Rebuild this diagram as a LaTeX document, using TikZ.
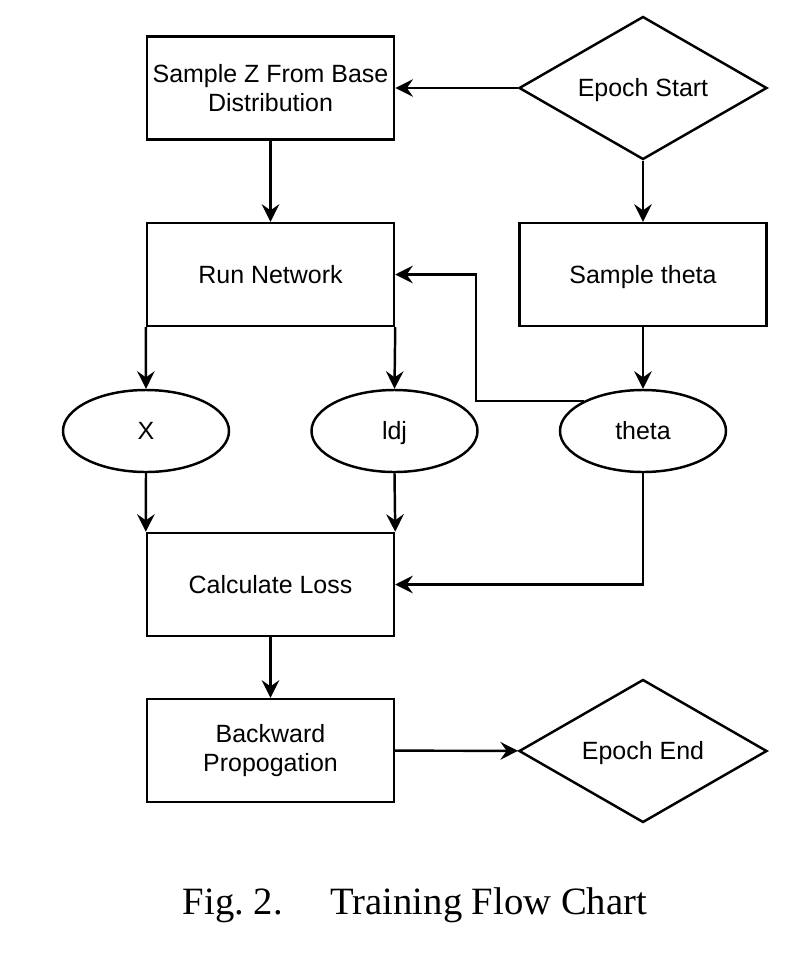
\documentclass[tikz,border=0pt]{standalone}
\usepackage{fontspec}
\setmainfont{Liberation Serif}
\setsansfont{Liberation Sans}
\usetikzlibrary{shapes.geometric, arrows.meta, positioning, calc}

\begin{document}
\begin{tikzpicture}[
    >={Stealth[length=10pt, width=10pt, inset=3.5pt]},
    block/.style={rectangle, draw, line width=1.4pt, minimum width=4.94cm, minimum height=2.06cm, align=center, font=\sffamily\fontsize{14.2}{16.5}\selectfont},
    decision/.style={diamond, draw, line width=1.4pt, aspect=1.7, inner sep=0pt, minimum width=4.96cm, minimum height=2.86cm, align=center, font=\sffamily\fontsize{14.2}{16.5}\selectfont},
    data/.style={ellipse, draw, line width=1.4pt, minimum width=3.32cm, minimum height=1.64cm, font=\sffamily\fontsize{14.2}{16.5}\selectfont},
    oneline/.style={text height=12pt, text depth=1.8pt},
    arrow/.style={->, line width=1.4pt}
]
\useasboundingbox (0, 0) rectangle (16, -19.24);

% Top row
\node[block] (sample) at (5.41, -1.76) {Sample Z From Base\\Distribution};
\node[decision, oneline] (start) at (12.86, -1.76) {Epoch Start};

% Network and theta
\node[block, oneline] (run) at (5.41, -5.49) {Run Network};
\node[block, oneline] (stheta) at (12.86, -5.49) {Sample theta};

% Outputs
\node[data, oneline] (x) at (2.92, -8.62) {X};
\node[data, oneline] (ldj) at (7.89, -8.62) {ldj};
\node[data, oneline] (theta) at (12.86, -8.62) {theta};

% Loss and backward pass
\node[block, oneline] (loss) at (5.41, -11.69) {Calculate Loss};
\node[block] (back) at (5.41, -15.01) {Backward\\Propogation};
\node[decision, oneline] (end) at (12.86, -15.02) {Epoch End};

% Caption
\node[font=\fontsize{22}{26}\selectfont] (caption) at (8.3, -18.1) {Fig.~2.\hspace{0.9em} Training Flow Chart};

% Arrows
\draw[arrow] (start) -- (sample);
\draw[arrow] (sample) -- (run);
\draw[arrow] (start) -- (stheta);
\draw[arrow] (stheta) -- (theta);
\draw[arrow] (run.south west) -- (x.north);
\draw[arrow] (run.south east) -- (ldj.north);
\draw[arrow] (x.south) -- (loss.north west);
\draw[arrow] (ldj.south) -- (loss.north east);
\draw[arrow] (loss) -- (back);
\draw[arrow] (back) -- (end);

% theta feeds back
\draw[arrow] (theta.153) -- ++(-2.16, 0) |- (run.east);
\draw[arrow] (theta.south) |- (loss.east);

\end{tikzpicture}
\end{document}
